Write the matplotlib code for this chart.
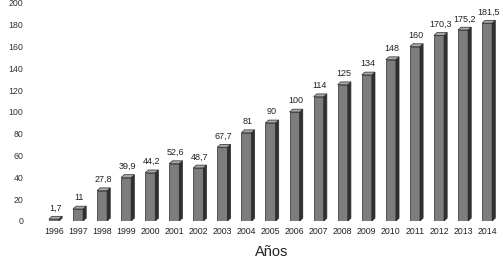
import numpy as np
import matplotlib
matplotlib.use("Agg")
import matplotlib.pyplot as mp

mp.rcParams['font.family'] = ['Liberation Sans', 'DejaVu Sans']

# data
years = ["1996", "1997", "1998", "1999", "2000", "2001", "2002", "2003", "2004", "2005",
         "2006", "2007", "2008", "2009", "2010", "2011", "2012", "2013", "2014"]
values = [1.7, 11, 27.8, 39.9, 44.2, 52.6, 48.7, 67.7, 81, 90,
          100, 114, 125, 134, 148, 160, 170.3, 175.2, 181.5]
labels = ["1,7", "11", "27,8", "39,9", "44,2", "52,6", "48,7", "67,7", "81", "90",
          "100", "114", "125", "134", "148", "160", "170,3", "175,2", "181,5"]
y_ticks = [0, 20, 40, 60, 80, 100, 120, 140, 160, 180, 200]

# bar look
width = 0.42
dx = 0.13   # depth offset in x (data units)
dy = 2.6    # depth offset in y (data units)
front_col = '#7d7d7d'
side_col = '#303030'
top_col = '#a8a8a8'
edge = '#2a2a2a'

fig = mp.figure(figsize=(5.03, 2.59), dpi=100)
ax = fig.add_axes([40/503, 1 - 221/259, 1 - 40/503, 218/259])

x = np.arange(len(years))
ax.bar(x, values, width=width, color=front_col, edgecolor=edge, linewidth=0.5, zorder=2)

for xi, v in zip(x, values):
    l, r = xi - width/2, xi + width/2
    # side face
    ax.fill([r, r + dx, r + dx, r], [0, dy, v + dy, v],
            color=side_col, edgecolor=edge, linewidth=0.5, zorder=3)
    # top face
    ax.fill([l, r, r + dx, l + dx], [v, v, v + dy, v + dy],
            color=top_col, edgecolor=edge, linewidth=0.5, zorder=3)

for xi, v, lb in zip(x, values, labels):
    ax.text(xi + 0.05, v + 6, lb, ha='center', va='bottom', fontsize=6.5, color='#222222')

ax.set_xlim(-0.58, 18.66)
ax.set_ylim(0, 200)
ax.set_yticks(y_ticks)
ax.set_yticklabels([str(t) for t in y_ticks], fontsize=6.3, color='#333333')
ax.set_xticks(x)
ax.set_xticklabels(years, fontsize=6.3, color='#222222')
ax.tick_params(length=0, pad=4)
ax.tick_params(axis='y', pad=12)
for s in ax.spines.values():
    s.set_visible(False)

ax.set_xlabel('Años', fontsize=10.5, color='#222222', labelpad=7)

fig.savefig('out.png', dpi=100)
